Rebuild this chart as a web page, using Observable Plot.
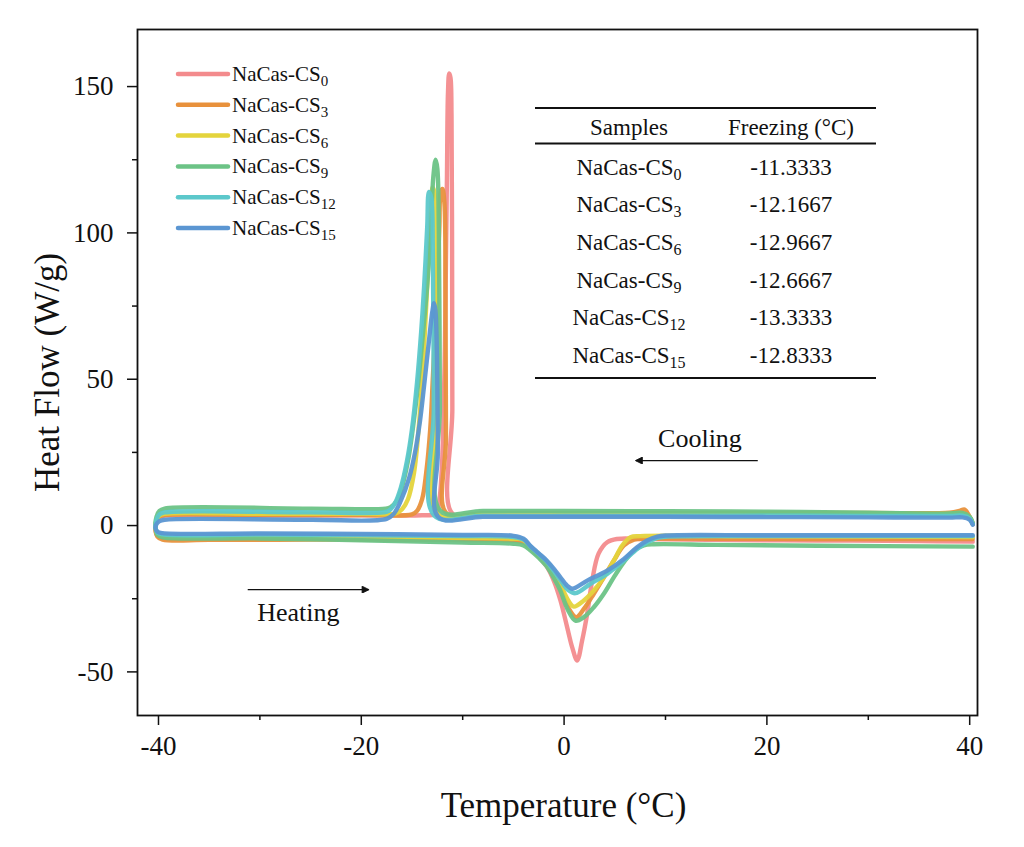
<!DOCTYPE html>
<html><head><meta charset="utf-8">
<script src="https://cdn.jsdelivr.net/npm/d3@7"></script>
<script src="https://cdn.jsdelivr.net/npm/@observablehq/plot@0.6"></script>
<style>
html,body{margin:0;padding:0;background:#fff;}
#chart svg{display:block;}
</style>
</head><body><div id="chart"></div>
<script>
// ---------- data ----------
const sampleBase = "NaCas-CS";
const sampleSubs = ["0", "3", "6", "9", "12", "15"];
const freezingTemps = ["-11.3333", "-12.1667", "-12.9667", "-12.6667", "-13.3333", "-12.8333"];
const sampleColors = ["#f38b8d", "#e8913c", "#e4d43c", "#6cc386", "#5cc8cb", "#5b96d2"];
const tableHeaders = ["Samples", "Freezing (°C)"];
const xTicks = [-40, -20, 0, 20, 40];
const xMinorTicks = [-30, -10, 10, 30];
const yTicks = [-50, 0, 50, 100, 150];
const yMinorTicks = [-25, 25, 75, 125];
const xTitle = "Temperature (°C)";
const yTitle = "Heat Flow (W/g)";
const annotationLabels = ["Cooling", "Heating"];
const annotationTextX = [13.4, -26.2];
const annotationTextY = [29.7, -29.7];
const arrowX1 = [19.1, -31.2];
const arrowX2 = [7.1, -19.3];
const arrowY = [22.2, -21.9];

// cooling: 40 -> -40 ; heating: -40 -> 40   [temperature °C, heat flow W/g]
const coolCS0 = [[40.3,0.5],[40.0,2.6],[39.3,3.7],[38,3.6],[30,3.7],[20,3.8],[10,3.9],[0,4.0],[-8,4.0],[-11.0,4.0],
 [-11.02,40],[-11.05,100],[-11.1,140],[-11.2,153],[-11.33,154.5],[-11.45,148],[-11.55,120],[-11.65,90],[-11.75,62],[-11.9,36],[-12.05,20],[-12.25,10],[-12.5,5],[-12.8,3.8],
 [-14,3.5],[-20,3.5],[-30,3.4],[-39.4,3.4],[-39.9,3.0],[-40.2,1.5]];
const heatCS0 = [[-40.3,-1],[-40.1,-3.5],[-39.6,-4.3],[-35,-4.4],[-25,-4.3],[-15,-4.2],[-8,-4.4],[-5,-4.8],[-4,-5.5],[-3.3,-7.5],[-2.5,-10.5],[-1.67,-14.2],[-1,-19],[-0.36,-25.6],[0.3,-34.7],[0.8,-41.6],[1.29,-46.1],[1.78,-39.3],[2.28,-30.1],[2.77,-18.8],[3.4,-9.6],[4.25,-5.7],[5.2,-4.6],[8,-4.6],[15,-4.9],[25,-5.1],[35,-5.3],[40.3,-5.5]];

const coolCS3 = [[40.3,0.5],[40.0,3.0],[39.5,5.5],[39.0,5.0],[38,4.4],[30,4.3],[20,4.3],[10,4.2],[0,4.2],[-8,4.2],[-11.6,4.2],
 [-11.65,30],[-11.7,80],[-11.8,110],[-12.0,115],[-12.17,114],[-12.3,102],[-12.5,85],[-12.7,68],[-12.95,50],[-13.2,33],[-13.6,18],[-14.0,9],[-14.5,5],[-15,3.8],
 [-20,3.6],[-30,3.6],[-39.4,3.6],[-39.9,3.0],[-40.2,1.5]];
const heatCS3 = [[-40.3,-1],[-40.1,-3.8],[-39.6,-4.8],[-35,-4.9],[-25,-4.8],[-15,-4.9],[-8,-5.0],[-5,-5.2],[-4,-5.8],[-3.3,-7.8],[-2.5,-10.5],[-1.7,-13.2],[-1,-17],[-0.4,-21],[0.4,-28],[1.2,-31.3],[1.95,-28.5],[2.93,-23.3],[3.92,-17.7],[4.9,-12],[5.9,-6.8],[6.9,-4.8],[8,-4.5],[15,-4.5],[25,-4.6],[40.3,-4.6]];

const coolCS6 = [[40.3,0.8],[40.0,2.8],[39.3,4.2],[38,4.0],[30,4.0],[20,4.0],[10,4.0],[0,4.0],[-8,4.0],[-12.5,4.0],
 [-12.55,40],[-12.65,95],[-12.8,114],[-12.97,115.5],[-13.1,110],[-13.3,97],[-13.6,75],[-13.9,55],[-14.3,35],[-14.8,18],[-15.4,9],[-16.0,5.5],[-16.6,4.2],
 [-20,4.0],[-30,4.0],[-39.4,4.0],[-39.9,3.4],[-40.2,1.8]];
const heatCS6 = [[-40.3,-0.5],[-40.1,-2.8],[-39.6,-3.5],[-30,-3.6],[-20,-3.8],[-10,-4.2],[-5,-4.5],[-4,-5.0],[-3.3,-7.5],[-2.5,-10],[-1.7,-13],[-1,-16.5],[-0.4,-20],[0.4,-25.5],[0.96,-27.7],[1.95,-25.6],[2.93,-22.2],[3.92,-17.7],[4.9,-12],[5.73,-6.8],[6.55,-4],[7.5,-3.6],[20,-3.7],[40.3,-3.9]];

const coolCS9 = [[40.3,1.0],[40.0,3.0],[39.3,4.3],[38,4.1],[30,4.4],[20,4.7],[10,4.9],[0,5.0],[-8,5.0],[-12.2,5.0],
 [-12.25,40],[-12.35,100],[-12.5,122],[-12.67,125],[-12.9,119],[-13.2,97],[-13.5,82],[-13.9,66],[-14.5,45],[-15.0,31],[-15.4,22],[-16.0,13],[-16.5,8.5],[-17.1,6.3],[-17.6,5.8],
 [-25,5.8],[-39.4,5.8],[-39.9,5.0],[-40.2,3.0]];
const heatCS9 = [[-40.3,0],[-40.1,-3.2],[-39.6,-4.0],[-30,-4.4],[-20,-5.0],[-10,-5.8],[-5,-6.2],[-4,-6.8],[-3.3,-8.5],[-2.5,-11],[-1.7,-14],[-1,-18],[-0.4,-22],[0.4,-29],[1.12,-32.5],[1.95,-31.3],[2.93,-27.9],[3.92,-23.3],[4.9,-17.7],[5.9,-12.5],[6.9,-8.5],[7.86,-6.8],[8.8,-6.4],[15,-6.6],[25,-6.9],[40.3,-7.2]];

const coolCS12 = [[40.3,0.5],[40.0,2.4],[39.3,3.4],[38,3.3],[30,3.3],[20,3.4],[10,3.4],[0,3.4],[-8,3.4],[-12.8,3.4],
 [-12.85,40],[-12.95,95],[-13.1,112],[-13.33,114],[-13.5,102],[-13.8,82],[-14.1,66],[-14.5,49],[-15.0,33],[-15.5,22],[-16.1,13],[-16.7,7.5],[-17.3,5],[-17.8,4.5],
 [-25,4.5],[-39.4,4.5],[-39.9,3.8],[-40.2,2.0]];
const heatCS12 = [[-40.3,-0.5],[-40.1,-2.4],[-39.6,-3.0],[-30,-3.1],[-20,-3.3],[-10,-3.6],[-5,-3.9],[-4,-4.8],[-3.3,-7.2],[-2.5,-9.7],[-1.7,-12.3],[-1,-15.5],[-0.4,-18.5],[0.4,-22],[1.12,-23.1],[2.6,-19.9],[4.25,-16.5],[5.9,-12],[7.2,-8],[8.2,-5.7],[9.2,-4.2],[10,-3.8],[20,-3.6],[40.3,-3.6]];

const coolCS15 = [[40.3,0.3],[40.0,2.0],[39.3,2.8],[38,2.7],[30,2.8],[20,2.9],[10,3.0],[0,3.0],[-8,3.0],[-12.4,2.9],
 [-12.45,25],[-12.55,60],[-12.7,74],[-12.83,76],[-13.0,73],[-13.3,64],[-13.8,48],[-14.2,36],[-14.7,25],[-15.3,16],[-16.1,8.5],[-16.8,4],[-17.5,2.3],
 [-25,2.0],[-39.4,2.0],[-39.9,1.5],[-40.2,0.5]];
const heatCS15 = [[-40.3,-0.8],[-40.1,-2.1],[-39.6,-2.6],[-30,-2.7],[-20,-2.9],[-10,-3.2],[-5,-3.5],[-4,-4.5],[-3.3,-7],[-2.5,-9.5],[-1.7,-12],[-1,-14.8],[-0.4,-17.5],[0.3,-20.5],[0.8,-21.6],[2.28,-18.8],[4.25,-15.4],[5.9,-11.4],[7.2,-7.4],[8.2,-5.1],[9.2,-3.8],[10,-3.4],[20,-3.3],[40.3,-3.3]];

const coolingCurves = [coolCS0, coolCS3, coolCS6, coolCS9, coolCS12, coolCS15];
const heatingCurves = [heatCS0, heatCS3, heatCS6, heatCS9, heatCS12, heatCS15];

// ---------- build ----------
const FONT = "'Liberation Serif', 'Times New Roman', 'DejaVu Serif', serif";
const curves = sampleSubs.map((s, i) =>
  coolingCurves[i].concat(heatingCurves[i]).map(([t, hf]) => ({sample: sampleBase + s, t, hf}))
);

function filledArrow(color) {
  return d3.create("svg:marker")
    .attr("viewBox", "0 -5 10 10")
    .attr("refX", 9).attr("refY", 0)
    .attr("markerWidth", 12).attr("markerHeight", 7)
    .attr("markerUnits", "userSpaceOnUse")
    .attr("orient", "auto")
    .call(m => m.append("path").attr("d", "M0,-5L10,0L0,5Z").attr("fill", color))
    .node();
}

function addLabel(textSel, base, sub, subSize, subDy) {
  textSel.append("tspan").text(base);
  textSel.append("tspan").attr("font-size", subSize).attr("dy", subDy).text(sub);
}

function legendMark(index, scales, values, dims) {
  const g = d3.create("svg:g").attr("font-family", FONT).attr("font-size", 21)
    .attr("fill", "#111").attr("text-anchor", "start");
  sampleSubs.forEach((s, i) => {
    const y = dims.marginTop + 45 + i * 30.8;
    const x0 = dims.marginLeft + 41;
    g.append("line").attr("x1", x0).attr("x2", x0 + 50).attr("y1", y).attr("y2", y)
      .attr("stroke", sampleColors[i]).attr("stroke-width", 4.5).attr("stroke-linecap", "round");
    const t = g.append("text").attr("x", x0 + 54).attr("y", y + 7).attr("text-anchor", "start");
    addLabel(t, sampleBase, s, 15, 5);
  });
  return g.node();
}

function tableMark(index, scales, values, dims) {
  const g = d3.create("svg:g").attr("font-family", FONT).attr("font-size", 23).attr("fill", "#111");
  const left = 535, right = 876, c1 = 629, c2 = 791;
  const ruleTop = 108, ruleMid = 143.5, headerY = 127, row0 = 166.5, rowStep = 37.7, ruleBot = row0 + rowStep * 5 + 23;
  [ruleTop, ruleMid, ruleBot].forEach(y => g.append("line").attr("x1", left).attr("x2", right)
    .attr("y1", y).attr("y2", y).attr("stroke", "#111").attr("stroke-width", 1.8));
  g.append("text").attr("x", c1).attr("y", headerY + 8).attr("text-anchor", "middle").text(tableHeaders[0]);
  g.append("text").attr("x", c2).attr("y", headerY + 8).attr("text-anchor", "middle").text(tableHeaders[1]);
  sampleSubs.forEach((s, i) => {
    const y = row0 + i * rowStep + 8;
    const t = g.append("text").attr("x", c1).attr("y", y).attr("text-anchor", "middle");
    addLabel(t, sampleBase, s, 16, 5);
    g.append("text").attr("x", c2).attr("y", y).attr("text-anchor", "middle").text(freezingTemps[i]);
  });
  return g.node();
}

const lineMarks = curves.map((data, i) => Plot.line(data, {
  x: "t", y: "hf", stroke: sampleColors[i], strokeWidth: 4.4,
  strokeLinejoin: "round", strokeLinecap: "round", curve: "catmull-rom", strokeOpacity: 0.95
}));

const plot = Plot.plot({
  width: 1024, height: 847,
  marginLeft: 137, marginRight: 47, marginTop: 29, marginBottom: 132,
  style: {fontFamily: FONT, background: "#fff", color: "#111"},
  x: {domain: [-42.07, 40.77]},
  y: {domain: [-64.9, 169.5]},
  marks: [
    ...lineMarks,
    Plot.axisX({ticks: xTicks, tickSize: 10, tickPadding: 10, fontSize: 27, label: null,
      tickFormat: d => String(d), strokeWidth: 1.5}),
    Plot.axisX({ticks: xMinorTicks, tickSize: 5, text: null, label: null, strokeWidth: 1.5}),
    Plot.axisY({ticks: yTicks, tickSize: 10, tickPadding: 14, fontSize: 27, label: null,
      tickFormat: d => String(d), strokeWidth: 1.5}),
    Plot.axisY({ticks: yMinorTicks, tickSize: 5, text: null, label: null, strokeWidth: 1.5}),
    Plot.frame({stroke: "#111", strokeWidth: 1.8}),
    Plot.text([xTitle], {frameAnchor: "bottom", dy: 90, dx: 6, fontSize: 35, lineAnchor: "middle", textAnchor: "middle"}),
    Plot.text([yTitle], {frameAnchor: "left", dx: -90, rotate: -90, fontSize: 35, lineAnchor: "middle", textAnchor: "middle"}),
    Plot.text(annotationLabels, {x: (d, i) => annotationTextX[i], y: (d, i) => annotationTextY[i], text: d => d,
      fontSize: 26, lineAnchor: "middle", textAnchor: "middle"}),
    Plot.link(annotationLabels, {x1: (d, i) => arrowX1[i], x2: (d, i) => arrowX2[i], y1: (d, i) => arrowY[i], y2: (d, i) => arrowY[i],
      stroke: "#111", strokeWidth: 1.2, markerEnd: filledArrow}),
    legendMark,
    tableMark
  ]
});
document.getElementById("chart").appendChild(plot);
</script>
</body></html>
